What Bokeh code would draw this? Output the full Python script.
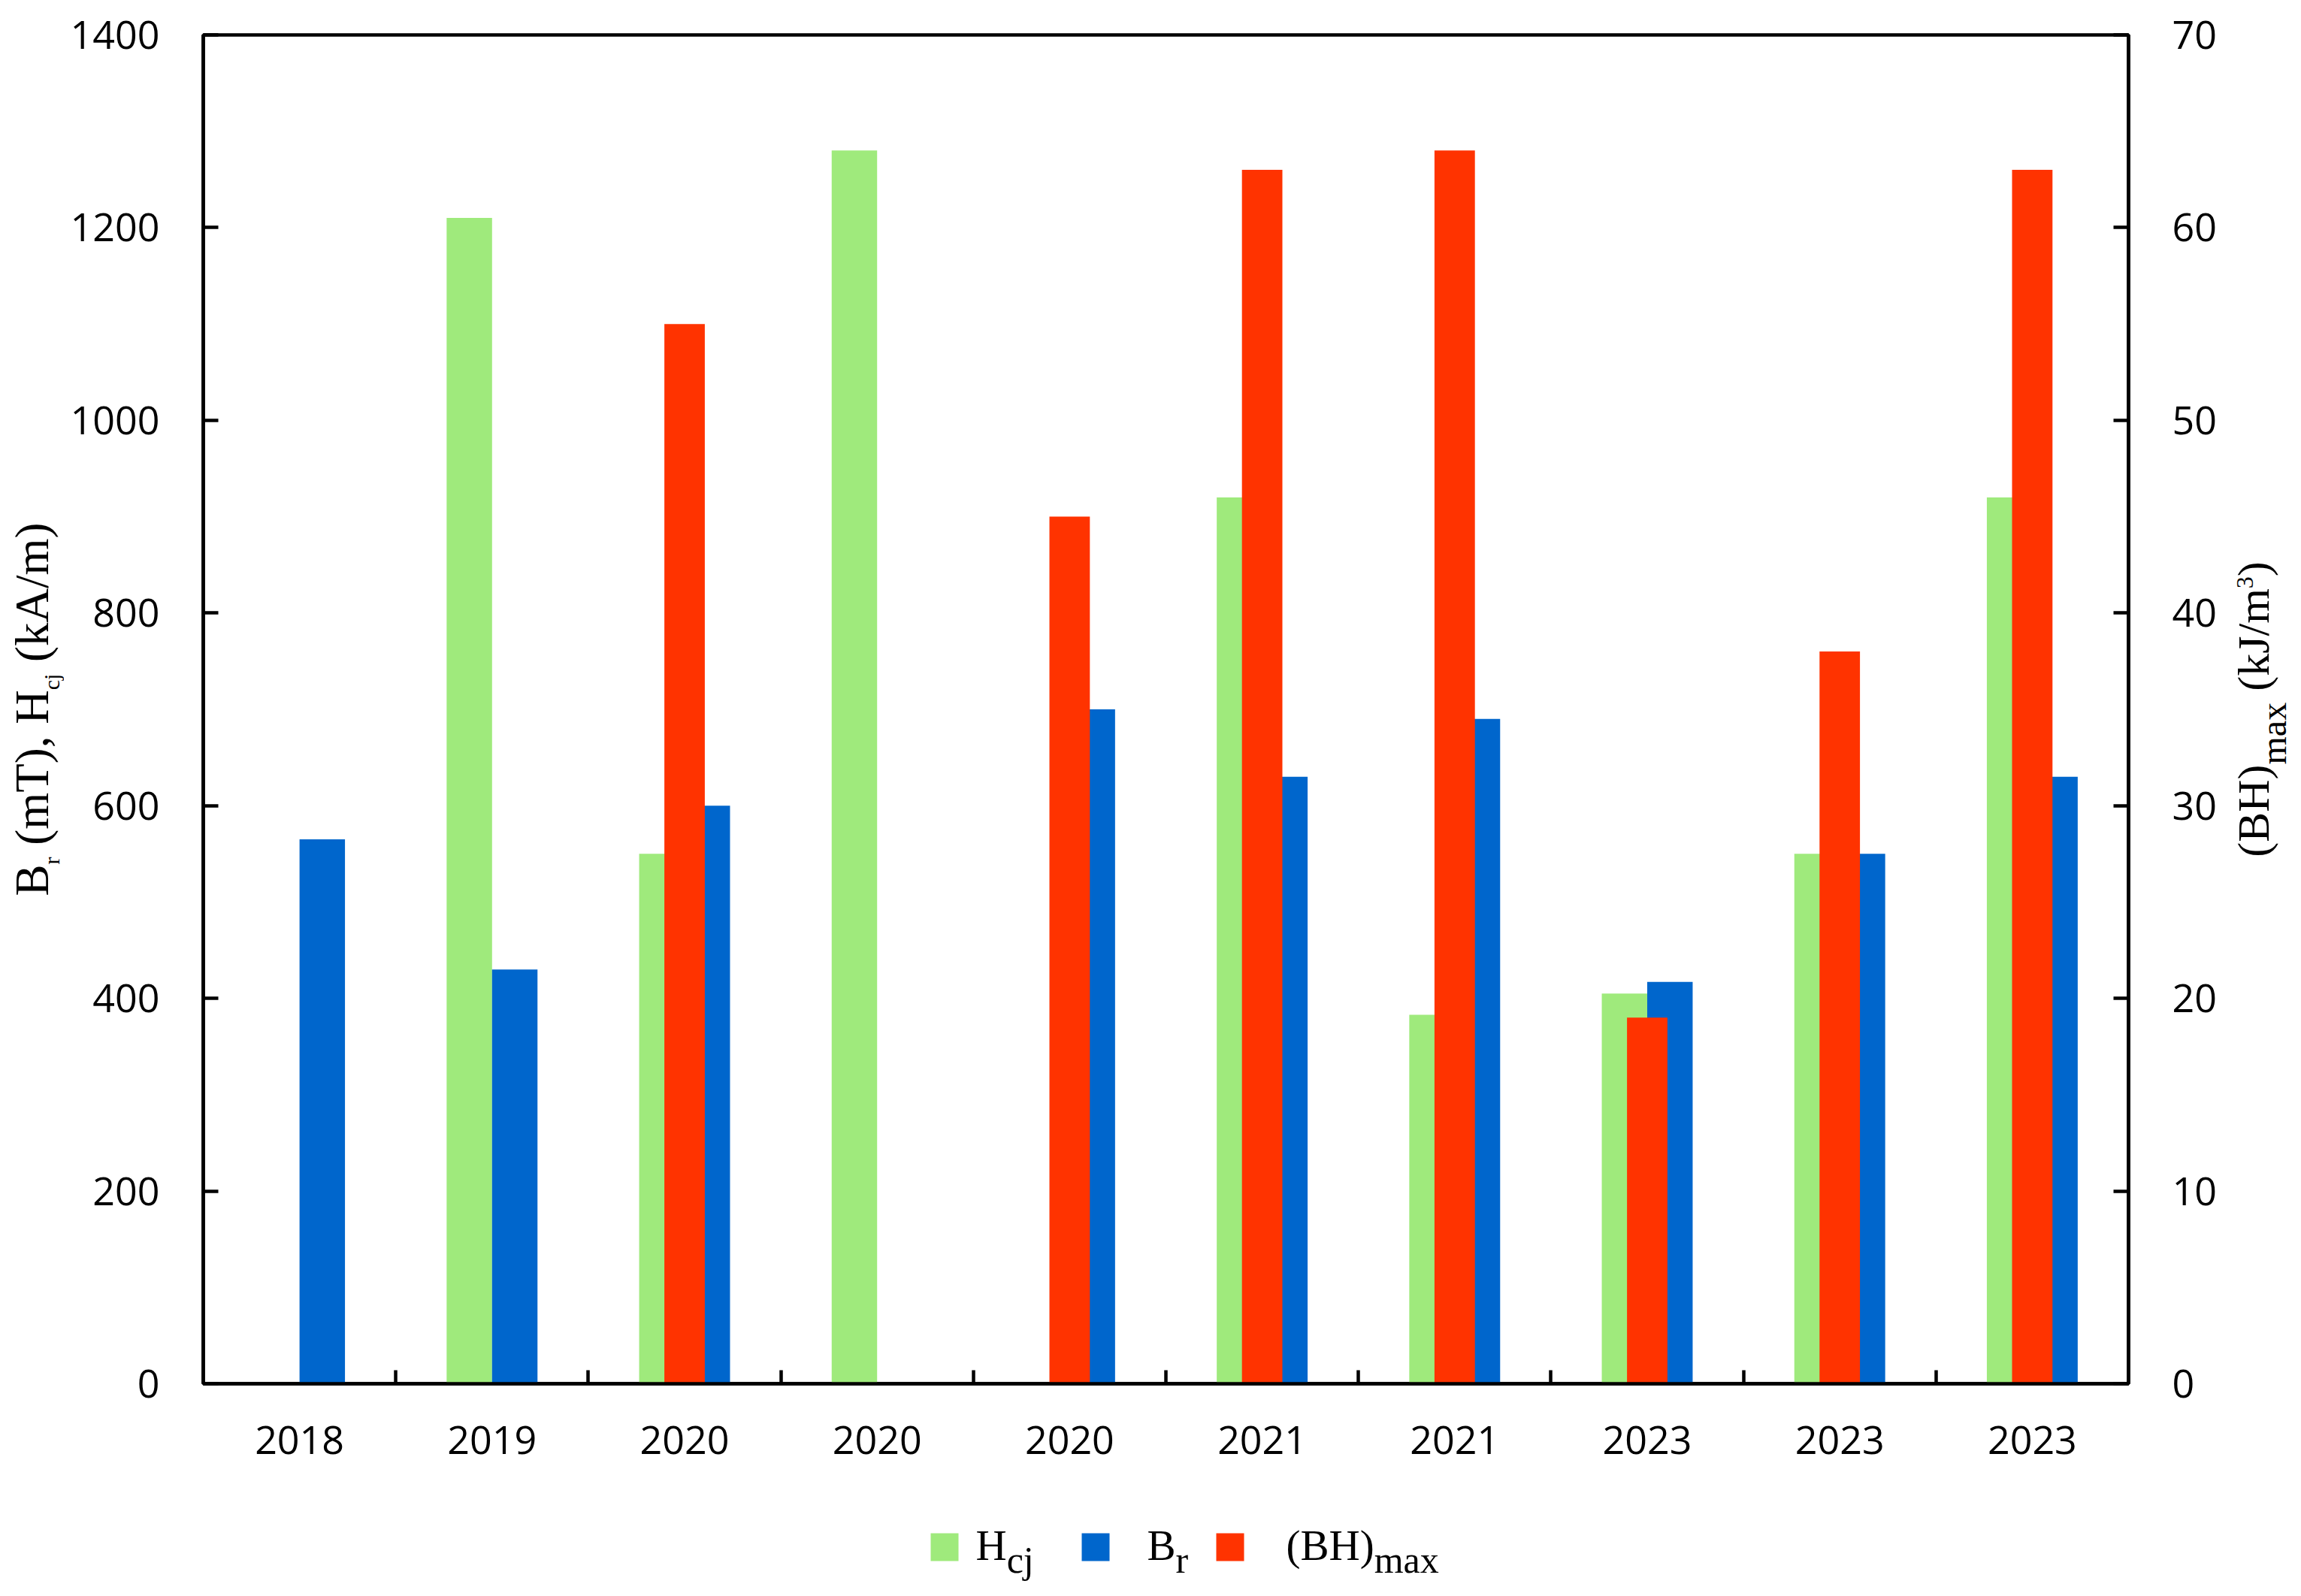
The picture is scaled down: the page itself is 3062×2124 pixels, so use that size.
import math
from bokeh.plotting import figure
from bokeh.layouts import row, column
from bokeh.models import Range1d, LinearAxis, FixedTicker, Label, ColumnDataSource
from bokeh.embed import file_html
from bokeh.resources import INLINE

# ---------------- data ----------------
years = ["2018", "2019", "2020", "2020", "2020", "2021", "2021", "2023", "2023", "2023"]
hcj = [None, 1210, 550, 1280, None, 920, 383, 405, 550, 920]        # kA/m (left axis)
br = [565, 430, 600, None, 700, 630, 690, 417, 550, 630]            # mT (left axis)
bhmax = [None, None, 55, None, 45, 63, 64, 19, 38, 63]             # kJ/m3 (right axis)
left_ticks = [0, 200, 400, 600, 800, 1000, 1200, 1400]
right_ticks = [0, 10, 20, 30, 40, 50, 60, 70]

GREEN = "#9FEA7C"
BLUE = "#0066CC"
RED = "#FF3300"

# ---------------- page layout (px) ----------------
LEFT_W, MAIN_W, RIGHT_W = 85, 2872, 105
TOP_H, LEG_H = 1991, 117
TOTAL_W = LEFT_W + MAIN_W + RIGHT_W
FRAME_L, FRAME_R, FRAME_T, FRAME_B = 270, 2832, 46, 1841   # page coords of plot frame
FRAME_MID_Y = (FRAME_T + FRAME_B) / 2

p = figure(width=MAIN_W, height=TOP_H, output_backend="svg", toolbar_location=None,
           x_range=Range1d(0, len(years)), y_range=Range1d(left_ticks[0], left_ticks[-1]),
           min_border_left=FRAME_L - LEFT_W, min_border_right=LEFT_W + MAIN_W - FRAME_R,
           min_border_top=FRAME_T, min_border_bottom=TOP_H - FRAME_B)
p.extra_y_ranges = {"bh": Range1d(right_ticks[0], right_ticks[-1])}
p.background_fill_color = "white"
p.border_fill_color = "white"
p.outline_line_color = "black"
p.outline_line_width = 4.5
p.xgrid.grid_line_color = None
p.ygrid.grid_line_color = None

GW = 0.236   # width of each of the two clustered primary-axis bars
RW = 0.21    # width of the secondary-axis bar


def src(vals, offset):
    xs, tops = [], []
    for i, v in enumerate(vals):
        if v is not None:
            xs.append(i + 0.5 + offset)
            tops.append(v)
    return ColumnDataSource(dict(x=xs, top=tops))


p.vbar(x="x", top="top", width=GW, bottom=0, source=src(hcj, -GW / 2),
       fill_color=GREEN, line_color=None)
p.vbar(x="x", top="top", width=GW, bottom=0, source=src(br, GW / 2),
       fill_color=BLUE, line_color=None)
p.vbar(x="x", top="top", width=RW, bottom=0, source=src(bhmax, 0.0),
       fill_color=RED, line_color=None, y_range_name="bh")

TICK_FONT = "Open Sans"
TICK_SIZE = "52px"


def style_axis(ax):
    ax.axis_line_color = "black"
    ax.axis_line_width = 4.5
    ax.major_tick_line_color = "black"
    ax.major_tick_line_width = 4.5
    ax.major_tick_in = 20
    ax.major_tick_out = 0
    ax.minor_tick_line_color = None
    ax.major_label_text_font = TICK_FONT
    ax.major_label_text_font_size = TICK_SIZE
    ax.major_label_text_color = "black"
    ax.major_label_standoff = 58


ly = p.yaxis[0]
ly.ticker = FixedTicker(ticks=left_ticks)
style_axis(ly)

ry = LinearAxis(y_range_name="bh", ticker=FixedTicker(ticks=right_ticks))
style_axis(ry)
p.add_layout(ry, "right")

bx = p.xaxis[0]
centres = [i + 0.5 for i in range(len(years))]
bounds = [float(i) for i in range(1, len(years))]
bx.ticker = FixedTicker(ticks=centres, minor_ticks=bounds)
style_axis(bx)
bx.major_tick_line_color = None
bx.minor_tick_line_color = "black"
bx.minor_tick_line_width = 4.5
bx.minor_tick_in = 18
bx.minor_tick_out = 0
bx.major_label_overrides = {c: y for c, y in zip(centres, years)}
bx.major_label_standoff = 56

# ---------------- rich text helpers ----------------
TW = {' ': 250, '(': 333, ')': 333, ',': 250, '/': 278, 'A': 722, 'B': 667, 'H': 722,
      'J': 389, 'T': 611, 'a': 444, 'c': 444, 'j': 278, 'k': 500, 'm': 778, 'r': 333,
      'x': 500, '3': 500}
SERIF = "Liberation Serif"
BASE_FIX = 0.33      # empirical raise so that the glyph baseline sits on the anchor


def tw(text, size):
    return sum(TW.get(ch, 500) for ch in text) * size / 1000.0


def total(pieces):
    return sum(tw(t, s) for t, s, _ in pieces)


def rich(fig, pieces, x0, y0, vertical):
    """pieces: (text, size_px, shift_px); shift>0 lowers the piece (subscript)."""
    pos = 0.0
    for text, size, shift in pieces:
        stripped = text.lstrip(" ")
        pos += tw(text[:len(text) - len(stripped)], size)
        body = stripped.rstrip(" ")
        fix = BASE_FIX * size
        if vertical:
            lab = Label(x=x0 + shift - fix, y=y0 + pos, angle=math.pi / 2)
        else:
            lab = Label(x=x0 + pos, y=y0 - shift + fix, angle=0)
        lab.text = body
        lab.text_font = SERIF
        lab.text_font_size = f"{size}px"
        lab.text_color = "black"
        lab.text_align = "left"
        lab.text_baseline = "alphabetic"
        fig.add_layout(lab)
        pos += tw(stripped, size)


def blank_fig(w, h, top=0, bottom=0):
    f = figure(width=w, height=h, output_backend="svg", toolbar_location=None,
               x_range=Range1d(0, w), y_range=Range1d(0, h - top - bottom),
               x_axis_location=None, y_axis_location=None,
               min_border=0, min_border_left=0, min_border_right=0,
               min_border_top=top, min_border_bottom=bottom)
    f.outline_line_color = None
    f.xgrid.grid_line_color = None
    f.ygrid.grid_line_color = None
    f.background_fill_color = "white"
    f.border_fill_color = "white"
    return f


def side_y(Y):       # page Y -> side-figure data y (frame aligned with main frame)
    return FRAME_B - Y


# left axis title (reads bottom -> top)
lf = blank_fig(LEFT_W, TOP_H, FRAME_T, TOP_H - FRAME_B)
left_title = [("B", 63, 0), ("r", 30, 15), (" (mT), H", 63, 0), ("cj", 30, 15), (" (kA/m)", 63, 0)]
rich(lf, left_title, 63, side_y(FRAME_MID_Y + total(left_title) / 2), True)

# right axis title
rf = blank_fig(RIGHT_W, TOP_H, FRAME_T, TOP_H - FRAME_B)
right_title = [("(BH)", 60, 0), ("max", 48, 23), (" (kJ/m", 60, 0), ("3", 32, -20), (")", 60, 0)]
rich(rf, right_title, 3018 - (LEFT_W + MAIN_W), side_y(FRAME_MID_Y + total(right_title) / 2), True)

# legend strip
lg = blank_fig(TOTAL_W, LEG_H)


def ly_(Y):          # page Y -> legend-strip data y
    return TOP_H + LEG_H - Y


legend_items = [
    (GREEN, 1238, [("H", 57, 0), ("cj", 50, 17)], 1298),
    (BLUE, 1439, [("B", 57, 0), ("r", 50, 17)], 1526),
    (RED, 1618, [("(BH)", 57, 0), ("max", 50, 17)], 1711),
]
sw_l, sw_r, sw_b, sw_t, sw_c = [], [], [], [], []
for color, X0, pieces, TX in legend_items:
    sw_l.append(X0)
    sw_r.append(X0 + 37)
    sw_b.append(ly_(2077))
    sw_t.append(ly_(2040))
    sw_c.append(color)
    rich(lg, pieces, TX, ly_(2075), False)
lg.quad(left=sw_l, right=sw_r, bottom=sw_b, top=sw_t, fill_color=sw_c, line_color=None)

layout = column(row(lf, p, rf, spacing=0), lg, spacing=0)
open("out.html", "w").write(file_html(layout, INLINE))
